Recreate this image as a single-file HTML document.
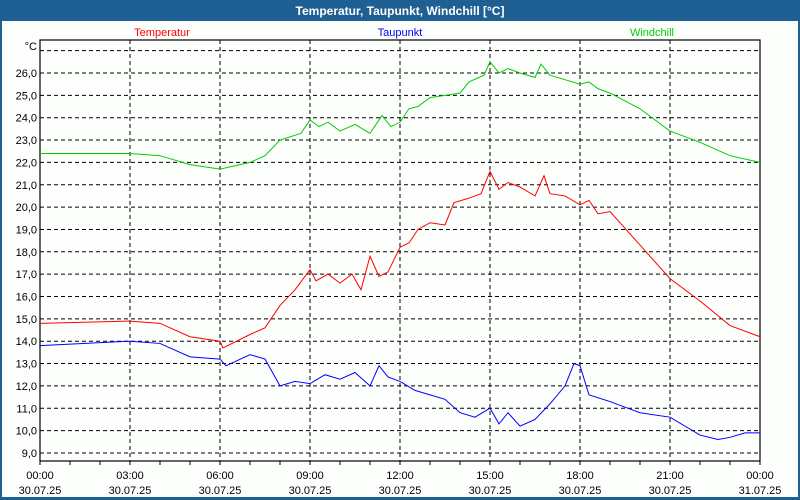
<!DOCTYPE html>
<html><head><meta charset="utf-8"><style>
html,body{margin:0;padding:0;background:#fff}
svg{display:block;font-family:"Liberation Sans",sans-serif}
</style></head><body>
<svg width="800" height="500" viewBox="0 0 800 500">
<rect x="0" y="0" width="800" height="500" fill="#1e6093"/>
<rect x="2" y="21" width="796" height="476" fill="#fdfffd"/>
<text x="400" y="15" text-anchor="middle" fill="#fff" font-size="12" font-weight="bold">Temperatur, Taupunkt, Windchill [°C]</text>
<text x="162" y="36" text-anchor="middle" fill="#f00" font-size="11">Temperatur</text>
<text x="400" y="36" text-anchor="middle" fill="#00f" font-size="11">Taupunkt</text>
<text x="652" y="36" text-anchor="middle" fill="#0c0" font-size="11">Windchill</text>
<text x="37" y="50" text-anchor="end" font-size="11">°C</text>
<g id="grid"></g><g id="axes"></g><g id="series"></g>
</svg>
<script>
const hours=[0,3,6,9,12,15,18,21,24];
const xLabels=["00:00","03:00","06:00","09:00","12:00","15:00","18:00","21:00","00:00"];
const dLabels=["30.07.25","30.07.25","30.07.25","30.07.25","30.07.25","30.07.25","30.07.25","30.07.25","31.07.25"];
const yTicks=[9,10,11,12,13,14,15,16,17,18,19,20,21,22,23,24,25,26,27];
const tTimes=[0,3,4,5,6,6.1,7,7.5,8,8.5,9,9.2,9.6,10,10.4,10.7,11,11.3,11.6,12,12.3,12.6,13,13.5,13.8,14.3,14.7,15,15.3,15.6,16,16.5,16.8,17,17.5,18,18.3,18.6,19,20,21,22,23,24];
const tempVals=[14.8,14.9,14.8,14.2,14.0,13.7,14.3,14.6,15.6,16.3,17.2,16.7,17.0,16.6,17.0,16.3,17.8,16.9,17.1,18.2,18.4,19.0,19.3,19.2,20.2,20.4,20.6,21.6,20.8,21.1,20.9,20.5,21.4,20.6,20.5,20.1,20.3,19.7,19.8,18.3,16.8,15.8,14.7,14.2];
const dTimes=[0,3,4,5,6,6.2,7,7.5,8,8.5,9,9.5,10,10.5,11,11.3,11.6,12,12.5,13,13.5,14,14.5,15,15.3,15.6,16,16.5,17,17.5,17.8,18,18.3,19,20,21,22,22.6,23,23.5,24];
const dewVals=[13.8,14.0,13.9,13.3,13.2,12.9,13.4,13.2,12.0,12.2,12.1,12.5,12.3,12.6,12.0,12.9,12.4,12.2,11.8,11.6,11.4,10.8,10.6,11.0,10.3,10.8,10.2,10.5,11.2,12.0,13.0,12.9,11.6,11.3,10.8,10.6,9.8,9.6,9.7,9.9,9.9];
const wTimes=[0,3,4,5,6,7,7.5,8,8.7,9,9.3,9.6,10,10.5,11,11.4,11.7,12,12.3,12.6,13,13.5,14,14.3,14.8,15,15.3,15.6,16,16.5,16.7,17,17.5,18,18.3,18.6,19,20,21,22,23,24];
const windVals=[22.4,22.4,22.3,21.9,21.7,22.0,22.3,23.0,23.3,23.9,23.6,23.8,23.4,23.7,23.3,24.1,23.6,23.8,24.4,24.5,24.9,25.0,25.1,25.6,25.9,26.5,26.0,26.2,26.0,25.8,26.4,25.9,25.7,25.5,25.6,25.3,25.1,24.4,23.4,22.9,22.3,22.0];
const X=h=>40+h*30, Y=v=>73+(26-v)*22.35;
const NS="http://www.w3.org/2000/svg";
function mk(tag,attrs,parent,txt){const e=document.createElementNS(NS,tag);for(const k in attrs)e.setAttribute(k,attrs[k]);if(txt!==undefined)e.textContent=txt;parent.appendChild(e);return e;}
const grid=document.getElementById('grid'),axes=document.getElementById('axes'),ser=document.getElementById('series');
yTicks.forEach(v=>{
 const l=mk('line',{x1:40,x2:760,y1:Y(v),y2:Y(v),stroke:'#000','stroke-dasharray':'4,3'},grid);
 
 
 if(v<27){const t=mk('text',{x:37,y:Y(v)+4,'text-anchor':'end','font-size':11},axes,v.toFixed(1).replace('.',','));
 
 }
});
hours.forEach((h,i)=>{
 if(h>0&&h<24){const l=mk('line',{x1:X(h),x2:X(h),y1:40,y2:461,stroke:'#000','stroke-dasharray':'4,3'},grid);
 
 }
 const t=mk('text',{x:X(h),y:479,'text-anchor':'middle','font-size':11},axes,xLabels[i]);
 
 
 const d=mk('text',{x:X(h),y:494,'text-anchor':'middle','font-size':11},axes,dLabels[i]);
 
 
});
for(let h=0;h<=24;h++){const tk=mk('line',{x1:X(h),x2:X(h),y1:461,y2:465,stroke:'#000'},axes);
 
 }
const box=mk('rect',{x:40,y:40,width:720,height:421,fill:'none',stroke:'#000','stroke-width':1.2},axes);


function line(ts,vs,col,name){const p=mk('polyline',{points:ts.map((t,i)=>X(t)+','+Y(vs[i])).join(' '),fill:'none',stroke:col,'stroke-width':1},ser);
 
 }
line(wTimes,windVals,'#0c0','windchill-line');
line(tTimes,tempVals,'#f00','temperatur-line');
line(dTimes,dewVals,'#00f','taupunkt-line');
</script>
</body></html>
